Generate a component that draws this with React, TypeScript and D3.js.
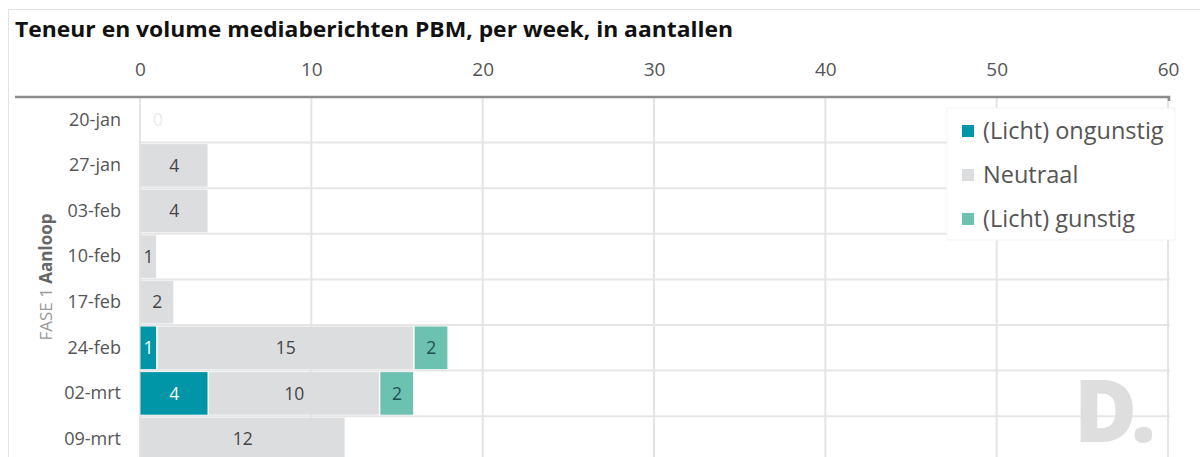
import React, { useEffect, useRef } from 'react';
import * as d3 from 'd3';

const weeks = ['20-jan', '27-jan', '03-feb', '10-feb', '17-feb', '24-feb', '02-mrt', '09-mrt'];
const ongunstig = [0, 0, 0, 0, 0, 1, 4, 0];
const neutraal = [0, 4, 4, 1, 2, 15, 10, 12];
const gunstig = [0, 0, 0, 0, 0, 2, 2, 0];
const seriesNames = ['(Licht) ongunstig', 'Neutraal', '(Licht) gunstig'];
const xTicks = [0, 10, 20, 30, 40, 50, 60];

const colors = ['#0096a7', '#dcdddf', '#6dc1b1'];
const labelColors = ['#ffffff', '#444444', '#1e4f53'];
const font = "'Open Sans', sans-serif";

const W = 1200;
const H = 457;
const margin = { left: 140, right: 32, top: 97 };
const rowStep = 45.6;

export default function App() {
    const ref = useRef<SVGSVGElement>(null);

    useEffect(() => {
        if (!ref.current) return;
        const svg = d3.select(ref.current);
        svg.selectAll('*').remove();

        const rows = weeks.map((w, i) => ({
            week: w,
            ongunstig: ongunstig[i],
            neutraal: neutraal[i],
            gunstig: gunstig[i],
        }));
        const keys = ['ongunstig', 'neutraal', 'gunstig'];
        const stacked = d3.stack<any>().keys(keys)(rows);

        const x = d3.scaleLinear().domain([0, 60]).range([margin.left, W - margin.right]);
        const y = d3.scaleBand()
            .domain(weeks)
            .range([margin.top, margin.top + rowStep * weeks.length])
            .padding(0);

        // frame
        svg.append('path')
            .attr('d', `M8.5,${H} V9.5 H${W}`)
            .attr('fill', 'none')
            .attr('stroke', '#e2e2e2')
            .attr('stroke-width', 1);

        // title
        svg.append('text')
            .attr('x', 15)
            .attr('y', 37)
            .attr('font-family', font)
            .attr('font-weight', 700)
            .attr('font-size', 22)
            .attr('textLength', 718)
            .attr('lengthAdjust', 'spacingAndGlyphs')
            .attr('fill', '#111')
            .text('Teneur en volume mediaberichten PBM, per week, in aantallen');

        // horizontal row separators
        const grid = svg.append('g');
        weeks.forEach(w => {
            const yy = (y(w) as number) + y.bandwidth();
            grid.append('line')
                .attr('x1', x(0)).attr('x2', x(60) + 2)
                .attr('y1', yy).attr('y2', yy)
                .attr('stroke', '#e6e6e6').attr('stroke-width', 2);
        });
        // vertical gridlines
        xTicks.forEach(t => {
            grid.append('line')
                .attr('x1', x(t)).attr('x2', x(t))
                .attr('y1', margin.top).attr('y2', H)
                .attr('stroke', '#e4e4e4').attr('stroke-width', 2);
        });

        // top axis
        const axis = svg.append('g')
            .attr('transform', `translate(0,${margin.top})`)
            .call(d3.axisTop(x).tickValues(xTicks).tickSize(0).tickPadding(21));
        axis.select('.domain').remove();
        axis.selectAll('text')
            .attr('font-family', font)
            .attr('font-size', 19)
            .attr('fill', '#555');
        svg.append('path')
            .attr('d', `M15,${margin.top} H${x(60) + 1} V${margin.top + 4}`)
            .attr('fill', 'none')
            .attr('stroke', '#8c8c8c')
            .attr('stroke-width', 2.5);

        // bars
        const barG = svg.append('g');
        stacked.forEach((layer, si) => {
            layer.forEach((d, i) => {
                const v = d[1] - d[0];
                if (v <= 0) return;
                const y0 = (y(weeks[i]) as number) + 1.5;
                const h = y.bandwidth() - 3;
                barG.append('rect')
                    .attr('x', x(d[0]) + 0.5)
                    .attr('y', y0)
                    .attr('width', Math.max(0, x(d[1]) - x(d[0]) - 1.5))
                    .attr('height', h)
                    .attr('fill', colors[si]);
                barG.append('text')
                    .attr('x', (x(d[0]) + x(d[1])) / 2)
                    .attr('y', y0 + h / 2)
                    .attr('dy', '0.35em')
                    .attr('text-anchor', 'middle')
                    .attr('font-family', font)
                    .attr('font-size', 17.5)
                    .attr('fill', labelColors[si])
                    .text(v);
            });
        });
        // zero totals
        rows.forEach((r, i) => {
            if (r.ongunstig + r.neutraal + r.gunstig === 0) {
                barG.append('text')
                    .attr('x', x(0) + 18)
                    .attr('y', (y(r.week) as number) + y.bandwidth() / 2)
                    .attr('dy', '0.35em')
                    .attr('text-anchor', 'middle')
                    .attr('font-family', font)
                    .attr('font-size', 17.5)
                    .attr('fill', '#ececec')
                    .text('0');
            }
        });

        // category labels
        const left = svg.append('g')
            .attr('transform', `translate(${margin.left - 19},0)`)
            .call(d3.axisLeft(y).tickSize(0).tickPadding(0));
        left.select('.domain').remove();
        left.selectAll('text')
            .attr('font-family', font)
            .attr('font-size', 18)
            .attr('fill', '#555');

        // phase label
        const phase = svg.append('text')
            .attr('transform', `translate(52,277) rotate(-90)`)
            .attr('text-anchor', 'middle')
            .attr('font-family', font)
            .attr('font-size', 17)
            .attr('fill', '#999');
        phase.append('tspan').text('FASE 1 ');
        phase.append('tspan').attr('font-weight', 700).attr('fill', '#666').text('Aanloop');

        // legend
        const lg = svg.append('g').attr('transform', 'translate(947,108)');
        lg.append('rect')
            .attr('width', 228).attr('height', 132)
            .attr('fill', '#fff')
            .attr('stroke', '#f3f3f3');
        seriesNames.forEach((name, i) => {
            const cy = 23 + i * 44;
            lg.append('rect')
                .attr('x', 15).attr('y', cy - 6)
                .attr('width', 12).attr('height', 12)
                .attr('fill', colors[i]);
            lg.append('text')
                .attr('x', 36).attr('y', cy)
                .attr('dy', '0.35em')
                .attr('font-family', font)
                .attr('font-size', 23.5)
                .attr('fill', '#555')
                .text(name);
        });

        // watermark
        svg.append('text')
            .attr('x', 1074)
            .attr('y', 442)
            .attr('font-family', font)
            .attr('font-weight', 800)
            .attr('font-size', 86)
            .attr('letter-spacing', -6)
            .attr('fill', '#dedede')
            .text('D.');
    }, []);

    return (
        <svg
            ref={ref}
            width={W}
            height={H}
            style={{ position: 'absolute', left: 0, top: 0, background: '#fff' }}
        />
    );
}
